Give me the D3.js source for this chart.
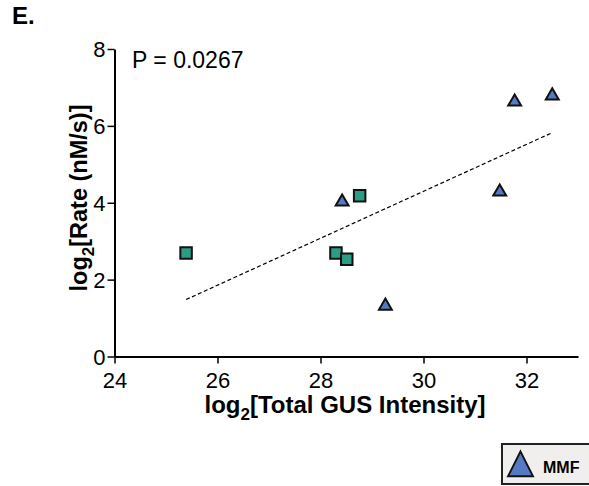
<!DOCTYPE html>
<html>
<head>
<meta charset="utf-8">
<script src="https://cdn.jsdelivr.net/npm/d3@7"></script>
<style>
  body { margin: 0; background: #fff; }
  svg { font-family: "Liberation Sans", Arial, sans-serif; }
</style>
</head>
<body>
<svg id="chart" width="589" height="486"></svg>
<script>
// squares (green group) and triangles (MMF)
const squareX = [25.39, 28.30, 28.51, 28.76];
const squareY = [2.69, 2.69, 2.53, 4.18];
const mmfX = [28.42, 29.26, 31.48, 31.77, 32.50];
const mmfY = [4.05, 1.34, 4.31, 6.65, 6.81];
const xTicks = [24, 26, 28, 30, 32];
const yTicks = [0, 2, 4, 6, 8];
const pLabel = "P = 0.0267";

const svg = d3.select("#chart");
const x = d3.scaleLinear().domain([24, 33]).range([114.5, 578]);
const y = d3.scaleLinear().domain([0, 8]).range([356.5, 49]);

const green = "#2a9e84";
const blue = "#5778c2";

// panel letter
svg.append("text").attr("x", 12).attr("y", 24)
  .style("font-size", "24px").style("font-weight", "bold").text("E.");

// axes
const xAxis = svg.append("g").attr("transform", `translate(0,${y(0)})`)
  .call(d3.axisBottom(x).tickValues(xTicks).tickSize(7).tickSizeOuter(0).tickFormat(d3.format("d")));
const yAxis = svg.append("g").attr("transform", `translate(${x(24)},0)`)
  .call(d3.axisLeft(y).tickValues(yTicks).tickSize(7).tickSizeOuter(0).tickFormat(d3.format("d")));

[xAxis, yAxis].forEach((g) => {
  g.select(".domain").attr("stroke", "#000").attr("stroke-width", 2);
  g.selectAll(".tick line").attr("stroke", "#000").attr("stroke-width", 1.5);
  g.selectAll(".tick text").attr("fill", "#000").style("font-size", "22px")
    .style("font-family", "'Liberation Sans', Arial, sans-serif");
});
xAxis.selectAll(".tick text").attr("dy", "0.71em").attr("y", 16);
yAxis.selectAll(".tick text").attr("x", -9).attr("dy", "0.35em");

// axis titles
const xt = svg.append("text").attr("x", 345).attr("y", 413).attr("text-anchor", "middle")
  .style("font-size", "24px").style("font-weight", "bold");
xt.append("tspan").text("log");
xt.append("tspan").attr("dy", 7).style("font-size", "17px").text("2");
xt.append("tspan").attr("dy", -7).text("[Total GUS Intensity]");

const yt = svg.append("text").attr("transform", "translate(87,198) rotate(-90)")
  .attr("text-anchor", "middle").style("font-size", "23.5px").style("font-weight", "bold");
yt.append("tspan").text("log");
yt.append("tspan").attr("dy", 7).style("font-size", "17px").text("2");
yt.append("tspan").attr("dy", -7).text("[Rate (nM/s)]");

// P value
svg.append("text").attr("x", 132).attr("y", 68).style("font-size", "23px").text(pLabel);

// regression over all points
const allX = squareX.concat(mmfX);
const allY = squareY.concat(mmfY);
const mx = d3.mean(allX), my = d3.mean(allY);
const slope = d3.sum(allX, (v, i) => (v - mx) * (allY[i] - my)) / d3.sum(allX, (v) => (v - mx) ** 2);
const icpt = my - slope * mx;
const ext = d3.extent(allX);
svg.append("line")
  .attr("x1", x(ext[0])).attr("y1", y(icpt + slope * ext[0]))
  .attr("x2", x(ext[1])).attr("y2", y(icpt + slope * ext[1]))
  .attr("stroke", "#000").attr("stroke-width", 1.2).attr("stroke-dasharray", "4,2.5");

// markers
svg.selectAll(".sq").data(squareX).join("path").attr("class", "sq")
  .attr("d", d3.symbol(d3.symbolSquare, 132))
  .attr("transform", (d, i) => `translate(${x(d)},${y(squareY[i])})`)
  .attr("fill", green).attr("stroke", "#111").attr("stroke-width", 2);

svg.selectAll(".tri").data(mmfX).join("path").attr("class", "tri")
  .attr("d", d3.symbol(d3.symbolTriangle, 72))
  .attr("transform", (d, i) => `translate(${x(d)},${y(mmfY[i]) + 1})`)
  .attr("fill", blue).attr("stroke", "#111").attr("stroke-width", 2);

// legend
const lg = svg.append("g");
lg.append("rect").attr("x", 502).attr("y", 444).attr("width", 100).attr("height", 40)
  .attr("fill", "#f1eeee").attr("stroke", "#222").attr("stroke-width", 2);
lg.append("path").attr("d", d3.symbol(d3.symbolTriangle, 270))
  .attr("transform", "translate(520.5,468) scale(1,1.15)")
  .attr("fill", blue).attr("stroke", "#111").attr("stroke-width", 1.8);
lg.append("text").attr("x", 543).attr("y", 473).style("font-size", "16px")
  .style("font-weight", "bold").text("MMF");
</script>
</body>
</html>
